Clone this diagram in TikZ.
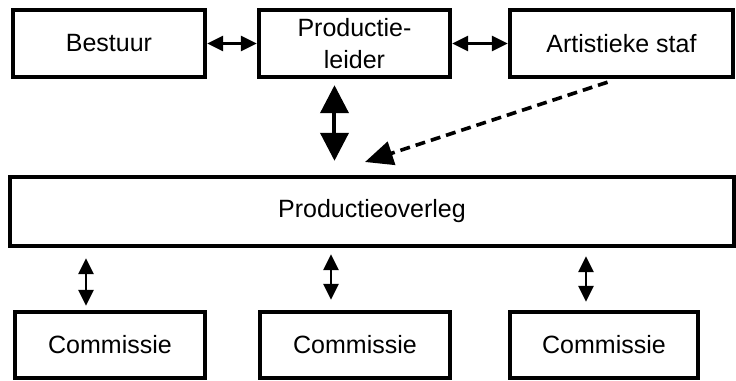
\documentclass[tikz,border=0pt]{standalone}
\usepackage{fontspec}
\setmainfont{Liberation Sans}
\usetikzlibrary{positioning,calc,arrows.meta}

\tikzset{
  orgbox/.style={draw, line width=2.2pt, minimum height=33.5pt, inner sep=0pt,
    align=center, font=\fontsize{12.5}{16}\selectfont},
  smallarrow/.style={line width=1.4pt,
    {Triangle[length=8pt,width=7.5pt]}-{Triangle[length=8pt,width=7.5pt]}},
  bigarrow/.style={line width=2pt,
    {Triangle[length=14pt,width=14pt]}-{Triangle[length=14pt,width=14pt]}},
  dasharrow/.style={line width=1.8pt, dash pattern=on 5pt off 3pt,
    -{Triangle[length=14pt,width=12pt]}}
}

\begin{document}
\begin{tikzpicture}[x=0.5pt,y=-0.5pt]
    \useasboundingbox (0,0) rectangle (736,381);

    % Top row
    \node[orgbox, minimum width=96pt] (bestuur) at (109,43.5) {Bestuur};
    \node[orgbox, minimum width=95.5pt] (leider) at (354.5,43.5) {Productie-\\leider};
    \node[orgbox, minimum width=111.5pt] (staf) at (621.5,43.5) {Artistieke staf};

    % Middle
    \node[orgbox, minimum width=362pt, minimum height=34.5pt] (overleg) at (372,211.5) {Productieoverleg};

    % Bottom row
    \node[orgbox, minimum width=95pt, minimum height=33pt] (com1) at (110,345) {Commissie};
    \node[orgbox, minimum width=95pt, minimum height=33pt] (com2) at (355,345) {Commissie};
    \node[orgbox, minimum width=94pt, minimum height=33pt] (com3) at (604,345) {Commissie};

    % Connectors
    \draw[smallarrow] (bestuur.east) -- (leider.west);
    \draw[smallarrow] (leider.east) -- (staf.west);
    \draw[bigarrow, shorten >=7pt] ([xshift=-10pt,yshift=-3pt]leider.south)
        -- ([xshift=-10pt]leider.south |- overleg.north);
    \coordinate (dashend) at (365,162);
    \draw[dasharrow] ([xshift=-7pt,yshift=-1.5pt]staf.south) -- (dashend);

    \draw[smallarrow, shorten <=5pt, shorten >=2pt] ([xshift=-12pt]com1.north |- overleg.south)
        -- ([xshift=-12pt]com1.north);
    \draw[smallarrow, shorten <=3pt, shorten >=5pt] ([xshift=-12pt]com2.north |- overleg.south)
        -- ([xshift=-12pt]com2.north);
    \draw[smallarrow, shorten <=4pt, shorten >=4pt] ([xshift=-9pt]com3.north |- overleg.south)
        -- ([xshift=-9pt]com3.north);
\end{tikzpicture}
\end{document}
